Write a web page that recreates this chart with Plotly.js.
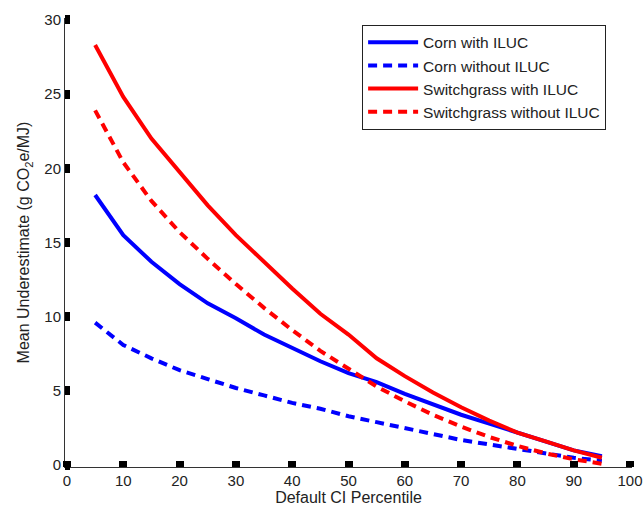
<!DOCTYPE html>
<html><head><meta charset="utf-8">
<script src="https://cdn.plot.ly/plotly-3.0.1.min.js"></script>
<style>html,body{margin:0;padding:0;background:#fff}#chart{width:644px;height:509px}</style>
</head><body><div id="chart"></div>
<script>
const percentiles = [5,10,15,20,25,30,35,40,45,50,55,60,65,70,75,80,85,90,95];
const cornWithILUC = [18.2,15.5,13.7,12.2,10.9,9.9,8.8,7.9,7.0,6.2,5.6,4.8,4.1,3.4,2.8,2.2,1.6,1.0,0.6];
const cornWithoutILUC = [9.6,8.1,7.2,6.4,5.8,5.2,4.7,4.2,3.8,3.3,2.9,2.5,2.1,1.7,1.4,1.1,0.8,0.5,0.3];
const switchWithILUC = [28.3,24.8,22.0,19.7,17.5,15.5,13.7,11.9,10.2,8.8,7.2,6.0,4.9,3.9,3.0,2.2,1.6,1.0,0.5];
const switchWithoutILUC = [23.9,20.4,17.8,15.7,13.9,12.2,10.6,9.1,7.7,6.5,5.3,4.3,3.4,2.6,1.9,1.3,0.8,0.4,0.1];
const seriesNames = ["Corn with ILUC","Corn without ILUC","Switchgrass with ILUC","Switchgrass without ILUC"];
const xTicks = [0,10,20,30,40,50,60,70,80,90,100];
const yTicks = [0,5,10,15,20,25,30];

const FONT = 'Liberation Sans, Arial, Helvetica, sans-serif';
const mk = (y, name, color, dash) => ({
  x: percentiles, y: y, name: name, type: 'scatter', mode: 'lines',
  line: {color: color, width: 4, dash: dash}
});
const data = [
  mk(cornWithILUC, seriesNames[0], '#0000ff', 'solid'),
  mk(cornWithoutILUC, seriesNames[1], '#0000ff', '9px,6px'),
  mk(switchWithILUC, seriesNames[2], '#ff0000', 'solid'),
  mk(switchWithoutILUC, seriesNames[3], '#ff0000', '9px,6px')
];
const axisCommon = {
  showgrid: false, zeroline: false, showline: true, linecolor: '#333', linewidth: 1,
  ticks: 'inside', tickcolor: '#000',
  tickfont: {family: FONT, size: 15, color: '#222'}
};
const layout = {
  width: 644, height: 509,
  margin: {l: 65, r: 12, t: 18, b: 42},
  paper_bgcolor: '#fff', plot_bgcolor: '#fff',
  font: {family: FONT, size: 16, color: '#222'},
  xaxis: Object.assign({}, axisCommon, {
    range: [-0.35, 100.35], tickvals: xTicks, ticktext: xTicks.map(String),
    ticklen: 6, tickwidth: 8,
    title: {text: 'Default CI Percentile', standoff: 2, font: {family: FONT, size: 16, color: '#222'}}
  }),
  yaxis: Object.assign({}, axisCommon, {
    range: [-0.12, 30.12], tickvals: yTicks, ticktext: yTicks.map(String),
    ticklen: 5, tickwidth: 9,
    title: {text: 'Mean Underestimate (g CO<sub>2</sub>e/MJ)', standoff: 10, font: {family: FONT, size: 16, color: '#222'}}
  }),
  legend: {
    x: 0.524, y: 0.985, xanchor: 'left', yanchor: 'top',
    bgcolor: '#fff', bordercolor: '#222', borderwidth: 1,
    font: {family: FONT, size: 15.5, color: '#222'},
    itemwidth: 50,
    tracegroupgap: 0
  },
  showlegend: true
};
Plotly.newPlot('chart', data, layout, {displayModeBar: false, staticPlot: true});
</script></body></html>
